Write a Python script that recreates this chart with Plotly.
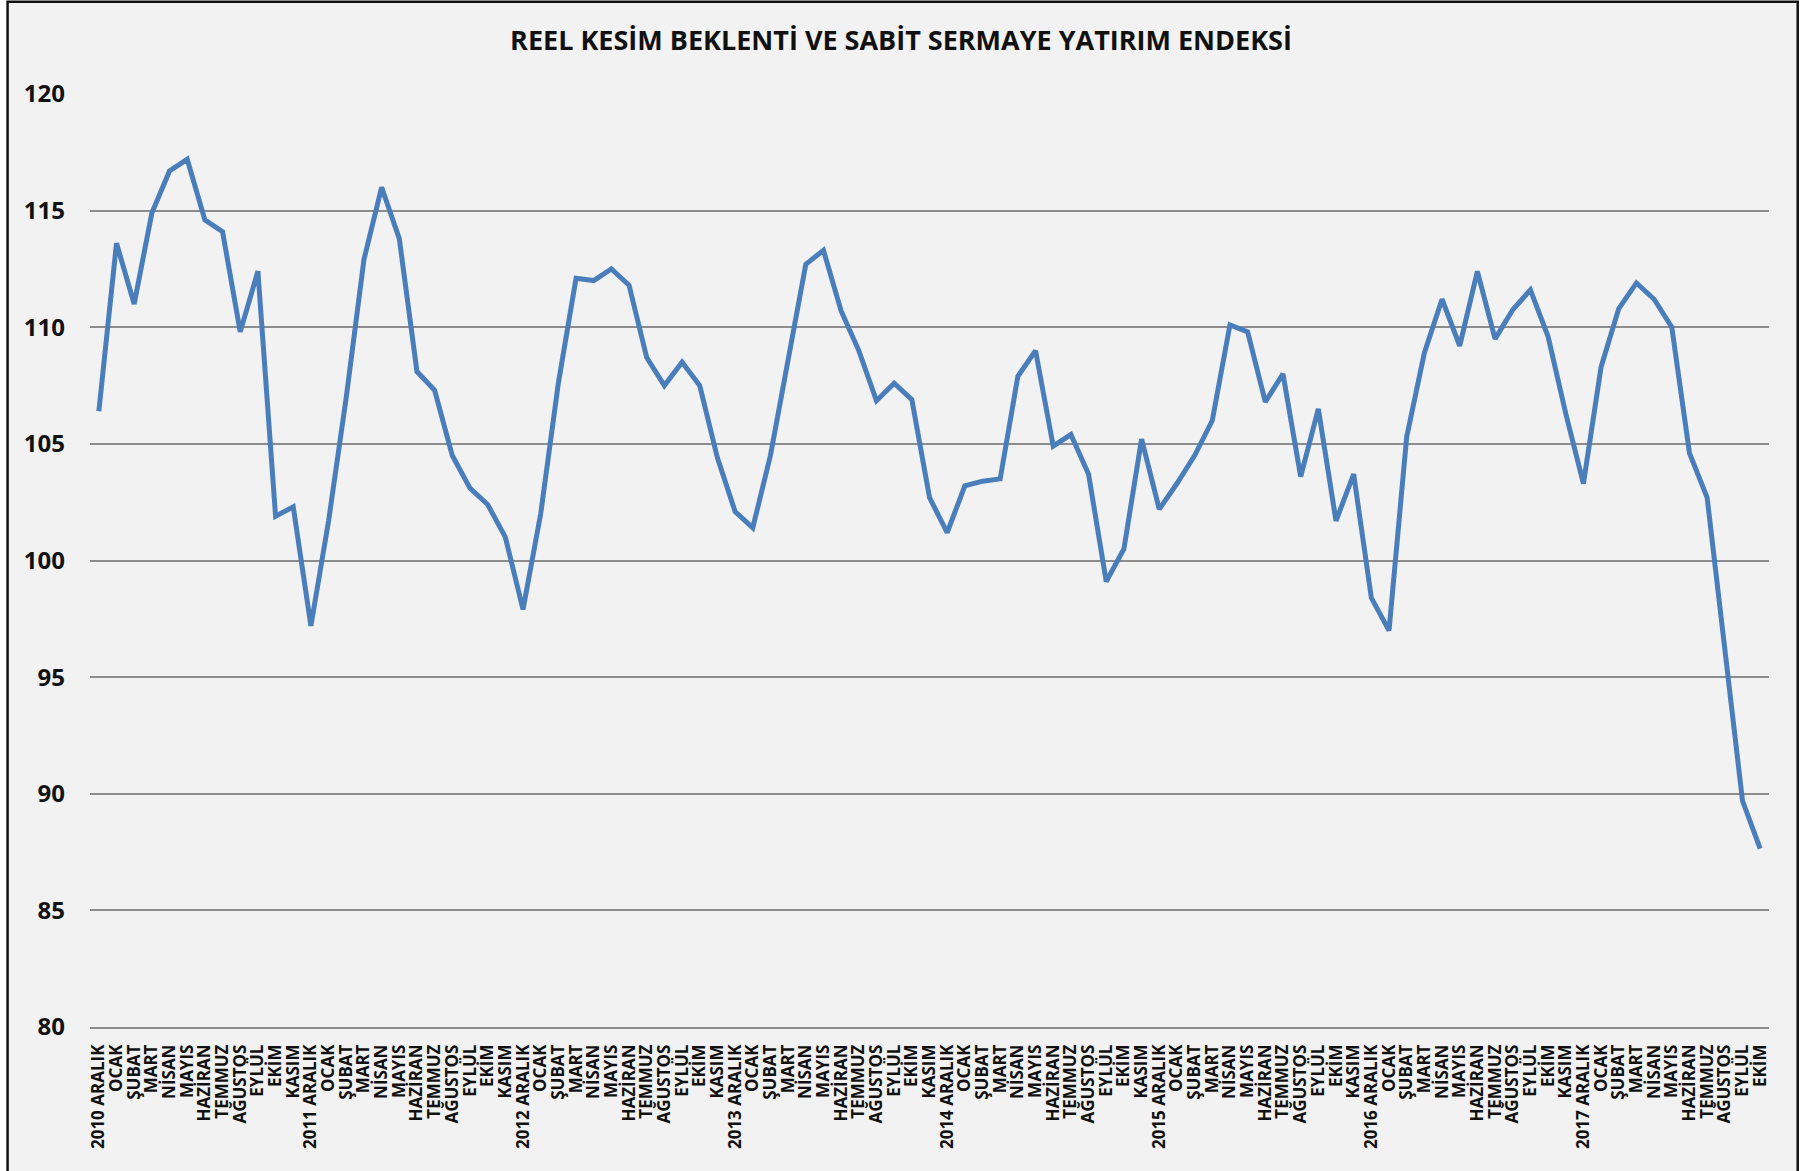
import plotly.graph_objects as go

# month names (ARALIK carries the year)
months = ["OCAK", "ŞUBAT", "MART", "NİSAN", "MAYIS", "HAZİRAN",
          "TEMMUZ", "AĞUSTOS", "EYLÜL", "EKİM", "KASIM"]
years = [2010, 2011, 2012, 2013, 2014, 2015, 2016, 2017]
last_months = ["OCAK", "ŞUBAT", "MART", "NİSAN", "MAYIS", "HAZİRAN",
               "TEMMUZ", "AĞUSTOS", "EYLÜL", "EKİM"]

labels = []
for i, yr in enumerate(years):
    labels.append(f"{yr} ARALIK")
    if i < len(years) - 1:
        labels.extend(months)
labels.extend(last_months)

values = [
    106.4, 113.6, 111.0, 114.9, 116.7, 117.2, 114.6, 114.1, 109.8, 112.4, 101.9, 102.3,
    97.2, 101.7, 107.0, 112.9, 116.0, 113.8, 108.1, 107.3, 104.5, 103.1, 102.4, 101.0,
    97.9, 102.0, 107.6, 112.1, 112.0, 112.5, 111.8, 108.7, 107.5, 108.5, 107.5, 104.4,
    102.1, 101.4, 104.5, 108.5, 112.7, 113.3, 110.7, 109.0, 106.85, 107.6, 106.9, 102.7,
    101.2, 103.2, 103.4, 103.5, 107.9, 109.0, 104.9, 105.4, 103.7, 99.1, 100.5, 105.2,
    102.2, 103.3, 104.5, 106.0, 110.1, 109.8, 106.8, 108.0, 103.6, 106.5, 101.7, 103.7,
    98.4, 97.0, 105.3, 108.9, 111.2, 109.2, 112.4, 109.5, 110.75, 111.6, 109.6, 106.3,
    103.3, 108.3, 110.8, 111.9, 111.2, 110.0, 104.6, 102.7, 96.0, 89.7, 87.65,
]

positions = list(range(len(labels)))
y_ticks = [80, 85, 90, 95, 100, 105, 110, 115, 120]

FONT = "Open Sans"
GRID = "#8c8c8c"
TEXT = "#111111"

fig = go.Figure()
fig.add_trace(go.Scatter(
    x=positions, y=values, mode="lines",
    line=dict(color="#4a7ebb", width=5),
    hoverinfo="y", showlegend=False,
))

fig.update_layout(
    width=1802, height=1171,
    margin=dict(l=89.5, r=32.8, t=94.4, b=144),
    paper_bgcolor="white",
    plot_bgcolor="rgba(0,0,0,0)",
    title=dict(
        text="<b>REEL KESİM BEKLENTİ VE SABİT SERMAYE YATIRIM ENDEKSİ</b>",
        x=0.5, xanchor="center", y=0.965, yanchor="middle",
        font=dict(family=FONT, size=27, color=TEXT),
    ),
    font=dict(family=FONT, color=TEXT),
    # chart frame (grey panel with dark border)
    shapes=[dict(
        type="rect", xref="paper", yref="paper",
        x0=-0.0491, x1=1.0171, y0=-0.17, y1=1.099,
        fillcolor="#f2f2f2", line=dict(color=TEXT, width=2.5),
        layer="below",
    )],
)

fig.update_xaxes(
    range=[-0.5, len(labels) - 0.5],
    tickmode="array", tickvals=positions, ticktext=[f"<b>{t}</b>" for t in labels],
    tickangle=-90, tickfont=dict(family=FONT, size=17, color=TEXT),
    showgrid=False, zeroline=False,
    showline=True, linecolor=GRID, linewidth=1.5,
    ticks="", ticklabelstandoff=9,
)
fig.update_yaxes(
    range=[80, 120],
    tickmode="array", tickvals=y_ticks, ticktext=[f"<b>{v}</b>" for v in y_ticks],
    tickfont=dict(family=FONT, size=24, color=TEXT),
    showgrid=True, gridcolor=GRID, gridwidth=1.5,
    zeroline=False, showline=False, ticks="",
    ticklabelstandoff=24,
)

# drop the default page margin so the figure sits at the window corner
fig.write_html("out.html", config={"displayModeBar": False},
               post_script="document.body.style.margin='0';")
